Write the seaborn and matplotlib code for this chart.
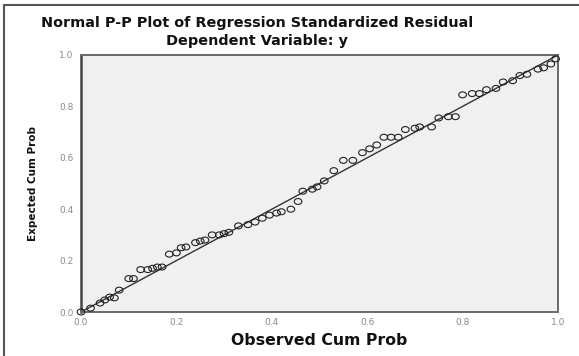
import numpy as np
import pandas as pd
import matplotlib
matplotlib.use('Agg')
import matplotlib.pyplot as plt
from matplotlib.lines import Line2D
from matplotlib.path import Path
import seaborn as sns

# observed vs expected cumulative probabilities
observed = [0.00, 0.02, 0.04, 0.05, 0.06, 0.07, 0.08, 0.10, 0.11, 0.125, 0.14, 0.15,
            0.16, 0.17, 0.185, 0.20, 0.21, 0.22, 0.24, 0.25, 0.26, 0.275, 0.29, 0.30,
            0.31, 0.33, 0.35, 0.365, 0.38, 0.395, 0.41, 0.42, 0.44, 0.455, 0.465, 0.485,
            0.495, 0.51, 0.53, 0.55, 0.57, 0.59, 0.605, 0.62, 0.635, 0.65, 0.665, 0.68,
            0.70, 0.71, 0.735, 0.75, 0.77, 0.785, 0.80, 0.82, 0.835, 0.85, 0.87, 0.885,
            0.905, 0.92, 0.935, 0.958, 0.97, 0.985, 0.995]
expected = [0.00, 0.015, 0.035, 0.047, 0.058, 0.055, 0.085, 0.13, 0.13, 0.165, 0.165, 0.17,
            0.175, 0.175, 0.225, 0.23, 0.25, 0.253, 0.27, 0.276, 0.28, 0.30, 0.30, 0.305,
            0.31, 0.335, 0.34, 0.35, 0.365, 0.377, 0.385, 0.39, 0.40, 0.43, 0.47, 0.478,
            0.487, 0.51, 0.55, 0.59, 0.59, 0.62, 0.635, 0.65, 0.68, 0.68, 0.68, 0.71,
            0.715, 0.72, 0.72, 0.755, 0.76, 0.76, 0.845, 0.85, 0.85, 0.865, 0.87, 0.895,
            0.90, 0.92, 0.925, 0.945, 0.95, 0.965, 0.985]
line_x = [0.0, 1.0]
line_y = [0.0, 1.0]
ticks = [0.0, 0.2, 0.4, 0.6, 0.8, 1.0]
tick_labels = ['0.0', '0.2', '0.4', '0.6', '0.8', '1.0']

df = pd.DataFrame({'Observed Cum Prob': observed, 'Expected Cum Prob': expected})

sns.set_style('white')
plt.rcParams['font.family'] = ['DejaVu Sans']

# slightly flattened circle, like the stretched SPSS markers
circ = Path.unit_circle()
oval = Path(circ.vertices * np.array([1.0, 0.78]), circ.codes)

fig = plt.figure(figsize=(5.79, 3.56), dpi=100)
ax = fig.add_axes([81 / 579, 44 / 356, 477 / 579, 257 / 356])
ax.set_facecolor('#f0f0f0')

ax.plot(line_x, line_y, color='#333333', lw=1.0, zorder=2)
sns.scatterplot(data=df, x='Observed Cum Prob', y='Expected Cum Prob', ax=ax,
                marker=oval, s=30, facecolor='none', edgecolor='#222222',
                linewidth=0.8, zorder=3, clip_on=False)

ax.set_xlim(0, 1)
ax.set_ylim(0, 1)
ax.set_xticks(ticks)
ax.set_yticks(ticks)
ax.set_xticklabels(tick_labels, fontsize=6.5, color='#8a8a8a')
ax.set_yticklabels(tick_labels, fontsize=6.5, color='#8a8a8a')
ax.tick_params(axis='both', direction='out', width=1.0, color='#555555', pad=1.5)
ax.tick_params(axis='y', length=4)
ax.tick_params(axis='x', length=3)

for side in ['left', 'bottom', 'top', 'right']:
    ax.spines[side].set_color('#6a6a6a')
    ax.spines[side].set_linewidth(1.4)
ax.spines['left'].set_color('#444444')
ax.spines['left'].set_linewidth(1.8)

ax.set_xlabel('Observed Cum Prob', fontsize=11.3, fontweight='bold', color='#111111', labelpad=4)
ax.set_ylabel('Expected Cum Prob', fontsize=7.5, fontweight='bold', color='#111111', labelpad=15)

fig.text(257 / 579, 1 - 23 / 356, 'Normal P-P Plot of Regression Standardized Residual',
         ha='center', va='center', fontsize=10.4, fontweight='bold', color='#111111')
fig.text(257 / 579, 1 - 41 / 356, 'Dependent Variable: y',
         ha='center', va='center', fontsize=10.4, fontweight='bold', color='#111111')

# outer frame (top and left edges visible in the original)
fig.add_artist(Line2D([4 / 579, 4 / 579], [0, 1 - 5 / 356], transform=fig.transFigure,
                      color='#555555', lw=1.5))
fig.add_artist(Line2D([4 / 579, 1], [1 - 5 / 356, 1 - 5 / 356], transform=fig.transFigure,
                      color='#555555', lw=1.5))

fig.savefig('out.png', dpi=100)
